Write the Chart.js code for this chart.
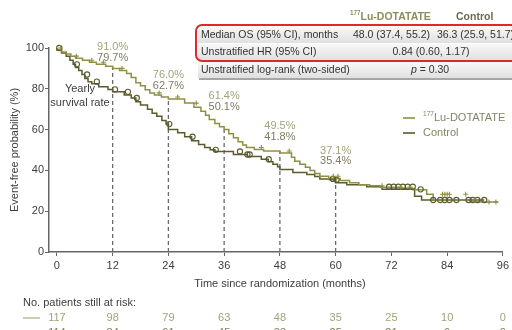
<!DOCTYPE html>
<html>
<head>
<meta charset="utf-8">
<script src="https://cdn.jsdelivr.net/npm/chart.js@4"></script>
<style>
  html, body { margin: 0; padding: 0; background: #fff; }
  #wrap { position: relative; width: 512px; height: 330px; }
</style>
</head>
<body>
<div id="wrap"><canvas id="km"></canvas></div>
<script>
/* KM plot: event-free probability, Lu-DOTATATE vs control */

const FONT = "'Liberation Sans', Arial, sans-serif";
const LU_COLOR = "#8e8f48";
const CTRL_COLOR = "#5b5b2e";

// step curves (month, %)
const luTime = [0, 1, 2, 3, 4, 5.5, 7, 8.5, 10.5, 12, 13.5, 15, 16, 17, 18, 19, 20, 21, 22.5, 24, 27.5, 29.5, 31, 32, 32.8, 34, 35, 36, 37, 38, 39, 40, 40.8, 42.5, 44.5, 48, 50.5, 51.2, 52.3, 53.5, 54.5, 55.5, 56.6, 58.5, 61, 63, 65, 67.3, 69.5, 73.8, 76.6, 79.6, 81, 89, 91.5, 95];
const luSurv = [100, 99, 98, 97, 96, 95, 94, 93, 92, 91, 90, 89, 87.5, 85.5, 83, 81.5, 79.5, 78, 77, 76, 75, 73, 71, 69, 67, 65, 63, 61.4, 60, 58, 56, 54, 52.5, 51.2, 50.2, 49.5, 48.5, 46.5, 44.5, 43, 41.5, 40, 38.5, 37.1, 36, 35, 34, 33, 32.5, 31.8, 31.2, 30.5, 28.3, 25.6, 24.5, 24.5];

const ctrlTime = [0, 1, 2, 2.8, 3.5, 4, 4.7, 5.4, 6, 6.7, 7.5, 9, 11, 12, 14.5, 16, 17, 18, 19.5, 20.5, 21.5, 22.6, 23.5, 24, 26, 27.5, 29, 30.5, 31.8, 33, 34, 38, 41, 44, 45.5, 46.5, 47.5, 48, 50.8, 53.8, 55.5, 56.6, 58.7, 60, 62.4, 66.7, 70, 77, 78.5, 80, 92];
const ctrlSurv = [100, 99, 97.5, 96, 94, 92, 90.5, 89, 87, 85, 83.5, 82.5, 81, 79.7, 78.5, 77, 75.5, 73.7, 72, 70, 68, 66.5, 64.5, 62.7, 60, 58.5, 56.5, 54.5, 52.7, 51.2, 50.1, 49.3, 47.8, 46.8, 45.5, 44.2, 43, 41.8, 40.5, 39, 38, 37, 35.8, 35.4, 34, 33, 32, 30.7, 27.3, 25.5, 25.5];

// censoring marks (months)
const luCensor = [0.8, 4.2, 7.5, 10, 14, 22, 26, 30, 44, 50, 59.5, 60.5, 70, 74, 76, 83, 83.5, 84, 84.5, 88, 90, 93, 94.5];
const ctrlCensor = [0.5, 4.3, 6.5, 8.6, 12.5, 15.3, 17.2, 24.2, 29.2, 34.2, 39.4, 41, 41.5, 45.6, 59.4, 60.2, 71.5, 72.5, 73.5, 74.5, 75.5, 76.6, 78.3, 81, 82.5, 83.5, 84.5, 86, 88.6, 89.5, 90.5, 92];

// yearly survival rates
const yearMonths = [12, 24, 36, 48, 60];
const luYearly = [91.0, 76.0, 61.4, 49.5, 37.1];
const ctrlYearly = [79.7, 62.7, 50.1, 41.8, 35.4];

// axes + number at risk
const xTicks = [0, 12, 24, 36, 48, 60, 72, 84, 96];
const yTicks = [0, 20, 40, 60, 80, 100];
const luRisk = [117, 98, 79, 63, 48, 35, 25, 10, 0];
const ctrlRisk = [114, 84, 61, 45, 33, 25, 21, 6, 0];

function stepAt(times, surv, t) {
  let v = surv[0];
  for (let i = 0; i < times.length; i++) if (times[i] <= t) v = surv[i];
  return v;
}
const pts = (ts, ss) => ts.map((t, i) => ({ x: t, y: ss[i] }));
const censorPts = (cs, ts, ss) => cs.map((c) => ({ x: c, y: stepAt(ts, ss, c) }));

function supText(ctx, sup, main, x, y, size, bold, align) {
  const b = bold ? "bold " : "";
  ctx.font = `${b}${size * 0.6}px ${FONT}`;
  const w1 = ctx.measureText(sup).width;
  ctx.font = `${b}${size}px ${FONT}`;
  const w2 = ctx.measureText(main).width;
  const x0 = align === "center" ? x - (w1 + w2) / 2 : x;
  ctx.textAlign = "left";
  ctx.font = `${b}${size * 0.6}px ${FONT}`;
  ctx.fillText(sup, x0, y - size * 0.35);
  ctx.font = `${b}${size}px ${FONT}`;
  ctx.fillText(main, x0 + w1, y);
}

const dashPlugin = {
  id: "dashes",
  beforeDatasetsDraw(chart) {
    const { ctx, scales: { x, y } } = chart;
    ctx.save();
    ctx.strokeStyle = "#6a6a6a";
    ctx.lineWidth = 1.3;
    ctx.setLineDash([4, 3]);
    yearMonths.forEach((m, i) => {
      ctx.beginPath();
      ctx.moveTo(x.getPixelForValue(m), y.getPixelForValue(0));
      ctx.lineTo(x.getPixelForValue(m), y.getPixelForValue(luYearly[i]));
      ctx.stroke();
    });
    ctx.restore();
  },
};

const annoPlugin = {
  id: "anno",
  afterDraw(chart) {
    const { ctx, scales: { x, y }, chartArea } = chart;
    ctx.save();
    ctx.textBaseline = "middle";

    // yearly labels
    const lift = [8.5, 11, 20, 14.5, 15];
    ctx.font = `11px ${FONT}`;
    ctx.textAlign = "center";
    yearMonths.forEach((m, i) => {
      const px = x.getPixelForValue(m);
      const py = y.getPixelForValue(luYearly[i]) - lift[i];
      ctx.fillStyle = "#a3a27a";
      ctx.fillText(luYearly[i].toFixed(1) + "%", px, py - 10.5);
      ctx.fillStyle = "#7d7c5e";
      ctx.fillText(ctrlYearly[i].toFixed(1) + "%", px, py);
    });
    ctx.fillStyle = "#3d3d3d";
    ctx.fillText("Yearly", 80, 89);
    ctx.fillText("survival rate", 80, 103);

    // y title
    ctx.save();
    ctx.translate(15, (chartArea.top + chartArea.bottom) / 2);
    ctx.rotate(-Math.PI / 2);
    ctx.fillStyle = "#3d3d3d";
    ctx.font = `11px ${FONT}`;
    ctx.fillText("Event-free probability (%)", 0, 0);
    ctx.restore();

    // x title
    ctx.fillStyle = "#3d3d3d";
    ctx.fillText("Time since randomization (months)", (x.getPixelForValue(0) + x.getPixelForValue(96)) / 2, 284);

    // legend
    ctx.lineWidth = 1.6;
    [[LU_COLOR, 118, "177", "Lu-DOTATATE"], [CTRL_COLOR, 133, "", "Control"]].forEach(([c, ly, s, t]) => {
      ctx.strokeStyle = c;
      ctx.beginPath(); ctx.moveTo(403, ly); ctx.lineTo(415, ly); ctx.stroke();
      ctx.fillStyle = "#858468";
      supText(ctx, s, t, 423, ly, 11, false, "left");
    });

    // risk table
    ctx.textAlign = "left";
    ctx.fillStyle = "#3d3d3d";
    ctx.font = `11px ${FONT}`;
    ctx.fillText("No. patients still at risk:", 23, 303);
    [[luRisk, 318, "#bdbc98", "#a3a27a"], [ctrlRisk, 333, "#8c8b70", "#7d7c5e"]].forEach(([arr, ry, lc, tc]) => {
      ctx.strokeStyle = lc; ctx.lineWidth = 1.5;
      ctx.beginPath(); ctx.moveTo(23, ry); ctx.lineTo(40, ry); ctx.stroke();
      ctx.fillStyle = tc;
      ctx.textAlign = "center";
      xTicks.forEach((m, i) => ctx.fillText(String(arr[i]), x.getPixelForValue(m), ry));
      ctx.textAlign = "left";
    });

    // summary table
    [27, 44, 62].forEach((ry) => {
      const g = ctx.createLinearGradient(0, ry, 0, ry + 16);
      g.addColorStop(0, "#f8f8f8");
      g.addColorStop(1, "#e0e0e0");
      ctx.fillStyle = g;
      ctx.fillRect(198, ry, 320, 16);
    });
    ctx.strokeStyle = "#888";
    ctx.lineWidth = 1.5;
    ctx.beginPath(); ctx.moveTo(199, 79); ctx.lineTo(512, 79); ctx.stroke();

    ctx.fillStyle = "#8d8d5c";
    supText(ctx, "177", "Lu-DOTATATE", 350, 17, 10.5, true, "left");
    ctx.fillStyle = "#6b6a4e";
    ctx.font = `bold 10.5px ${FONT}`;
    ctx.textAlign = "left";
    ctx.fillText("Control", 456, 17);

    ctx.fillStyle = "#333";
    ctx.font = `10.5px ${FONT}`;
    ctx.fillText("Median OS (95% CI), months", 201, 35);
    ctx.fillText("Unstratified HR (95% CI)", 201, 52);
    ctx.fillText("Unstratified log-rank (two-sided)", 201, 70);
    ctx.fillText("48.0 (37.4, 55.2)", 353, 35);
    ctx.fillText("36.3 (25.9, 51.7)", 437, 35);
    ctx.textAlign = "center";
    ctx.fillText("0.84 (0.60, 1.17)", 431, 52);
    ctx.font = `italic 10.5px ${FONT}`;
    const pw = ctx.measureText("p").width;
    ctx.font = `10.5px ${FONT}`;
    const rw = ctx.measureText(" = 0.30").width;
    ctx.textAlign = "left";
    const p0 = 430 - (pw + rw) / 2;
    ctx.font = `italic 10.5px ${FONT}`;
    ctx.fillText("p", p0, 70);
    ctx.font = `10.5px ${FONT}`;
    ctx.fillText(" = 0.30", p0 + pw, 70);

    ctx.strokeStyle = "#e3262a";
    ctx.lineWidth = 2;
    ctx.beginPath();
    ctx.roundRect(196, 25, 330, 36, 6);
    ctx.stroke();

    ctx.restore();
  },
};

const lineDs = (label, data, color) => ({
  label, data, borderColor: color, backgroundColor: color, borderWidth: 1.5,
  stepped: "after", pointRadius: 0, fill: false, clip: false, order: 2,
});
const censorDs = (label, data, color, style, r) => ({
  label, data, type: "scatter", showLine: false, pointStyle: style, pointRadius: r,
  pointBorderColor: color, pointBackgroundColor: "transparent", pointBorderWidth: 1.1,
  borderColor: color, clip: false, order: 1,
});

new Chart(document.getElementById("km"), {
  type: "line",
  data: {
    datasets: [
      lineDs("Lu-DOTATATE", pts(luTime, luSurv), LU_COLOR),
      lineDs("Control", pts(ctrlTime, ctrlSurv), CTRL_COLOR),
      censorDs("Lu censored", censorPts(luCensor, luTime, luSurv), LU_COLOR, "cross", 2.5),
      censorDs("Control censored", censorPts(ctrlCensor, ctrlTime, ctrlSurv), CTRL_COLOR, "circle", 2.6),
    ],
  },
  options: {
    responsive: true, maintainAspectRatio: false, animation: false,
    layout: { padding: { top: 48, right: 9, left: 0, bottom: 0 } },
    plugins: { legend: { display: false }, tooltip: { enabled: false } },
    scales: {
      x: {
        type: "linear", min: -1.7, max: 96,
        afterBuildTicks: (s) => { s.ticks = xTicks.map((v) => ({ value: v })); },
        afterFit: (s) => { s.height = 78; },
        ticks: { color: "#3d3d3d", font: { family: FONT, size: 11 }, padding: 3, maxRotation: 0 },
        grid: { display: true, drawOnChartArea: false, drawTicks: true, tickLength: 4, color: "#666" },
        border: { display: true, color: "#666", width: 1.5 },
      },
      y: {
        min: 0, max: 100,
        afterBuildTicks: (s) => { s.ticks = yTicks.map((v) => ({ value: v })); },
        afterFit: (s) => { s.width = 49; },
        ticks: { color: "#3d3d3d", font: { family: FONT, size: 11 }, padding: 1 },
        grid: { display: true, drawOnChartArea: false, drawTicks: true, tickLength: 4, color: "#666" },
        border: { display: true, color: "#666", width: 1.5 },
      },
    },
  },
  plugins: [dashPlugin, annoPlugin],
});
</script>
</body>
</html>
